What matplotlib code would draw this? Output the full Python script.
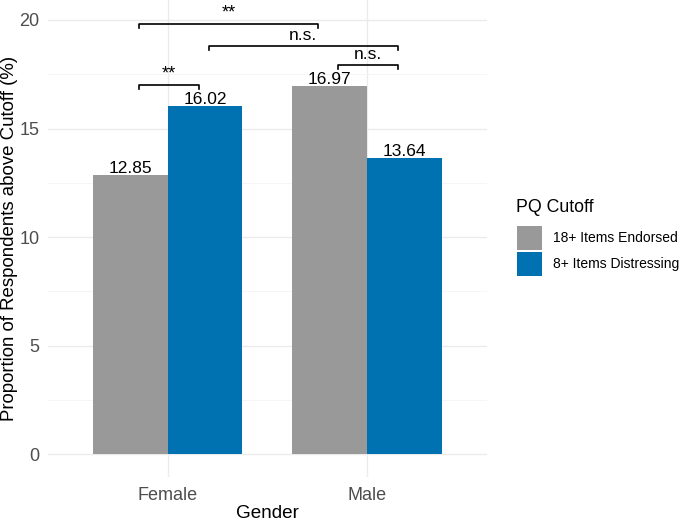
import matplotlib.pyplot as plt
from matplotlib.patches import Patch
import numpy as np

plt.rcParams['font.family'] = ['Liberation Sans', 'DejaVu Sans']

genders = ['Female', 'Male']
series = ['18+ Items Endorsed', '8+ Items Distressing']
endorsed = [12.85, 16.97]
distressing = [16.02, 13.64]
colors = ['#999999', '#0072B2']

# significance brackets: (x start, x end, height, label)
brackets = [
    (-0.145, 0.755, 19.82, '**'),
    (0.205, 1.155, 18.80, 'n.s.'),
    (0.855, 1.155, 17.93, 'n.s.'),
    (-0.145, 0.155, 17.00, '**'),
]

fig = plt.figure(figsize=(6.84, 5.22), dpi=100)
ax = fig.add_axes([0.070, 0.086, 0.642, 0.914])

x = np.arange(len(genders))
w = 0.375
for i, (vals, c) in enumerate(zip([endorsed, distressing], colors)):
    pos = x + (i - 0.5) * w
    ax.bar(pos, vals, width=w, color=c, zorder=2)
    for p, v in zip(pos, vals):
        ax.text(p, v + 0.1, f'{v:.2f}', ha='center', va='baseline',
                fontsize=12.5, color='black', zorder=3)

tick = 0.18
for x1, x2, y, lab in brackets:
    ax.plot([x1, x1, x2, x2], [y - tick, y, y, y - tick], color='black',
            lw=1.2, zorder=3, clip_on=False)
    fs = 12.5 if lab == 'n.s.' else 13
    ax.text((x1 + x2) / 2, y + 0.12, lab, ha='center', va='bottom',
            fontsize=fs, color='black', zorder=3)

ax.set_xlim(-0.6, 1.6)
ax.set_ylim(-1.05, 20.92)
ax.set_xticks(x)
ax.set_xticklabels(genders)
ax.set_yticks([0, 5, 10, 15, 20])
ax.set_yticks([2.5, 7.5, 12.5, 17.5], minor=True)
ax.grid(True, which='major', color='#EBEBEB', lw=1.0, zorder=0)
ax.grid(True, which='minor', axis='y', color='#F4F4F4', lw=0.6, zorder=0)
ax.set_axisbelow(True)
for s in ax.spines.values():
    s.set_visible(False)
ax.tick_params(which='both', length=0, labelsize=13, colors='#4D4D4D', pad=5)
ax.tick_params(axis='y', pad=6)
ax.tick_params(axis='x', pad=7)
ax.set_xlabel('Gender', fontsize=13.6, labelpad=1)
ax.set_ylabel('Proportion of Respondents above Cutoff (%)', fontsize=13.4, labelpad=1)

# legend
fig.text(0.754, 1 - 207 / 522, 'PQ Cutoff', ha='left', va='center', fontsize=12.8)
handles = [Patch(facecolor=c, edgecolor='none') for c in colors]
leg = fig.legend(handles, series, loc='upper left', bbox_to_anchor=(0.756, 0.567),
                 frameon=False, fontsize=10.0, borderaxespad=0,
                 handlelength=1.8, handleheight=2.3,
                 handletextpad=0.78, labelspacing=0.12, borderpad=0)

fig.savefig('out.png', dpi=100)
